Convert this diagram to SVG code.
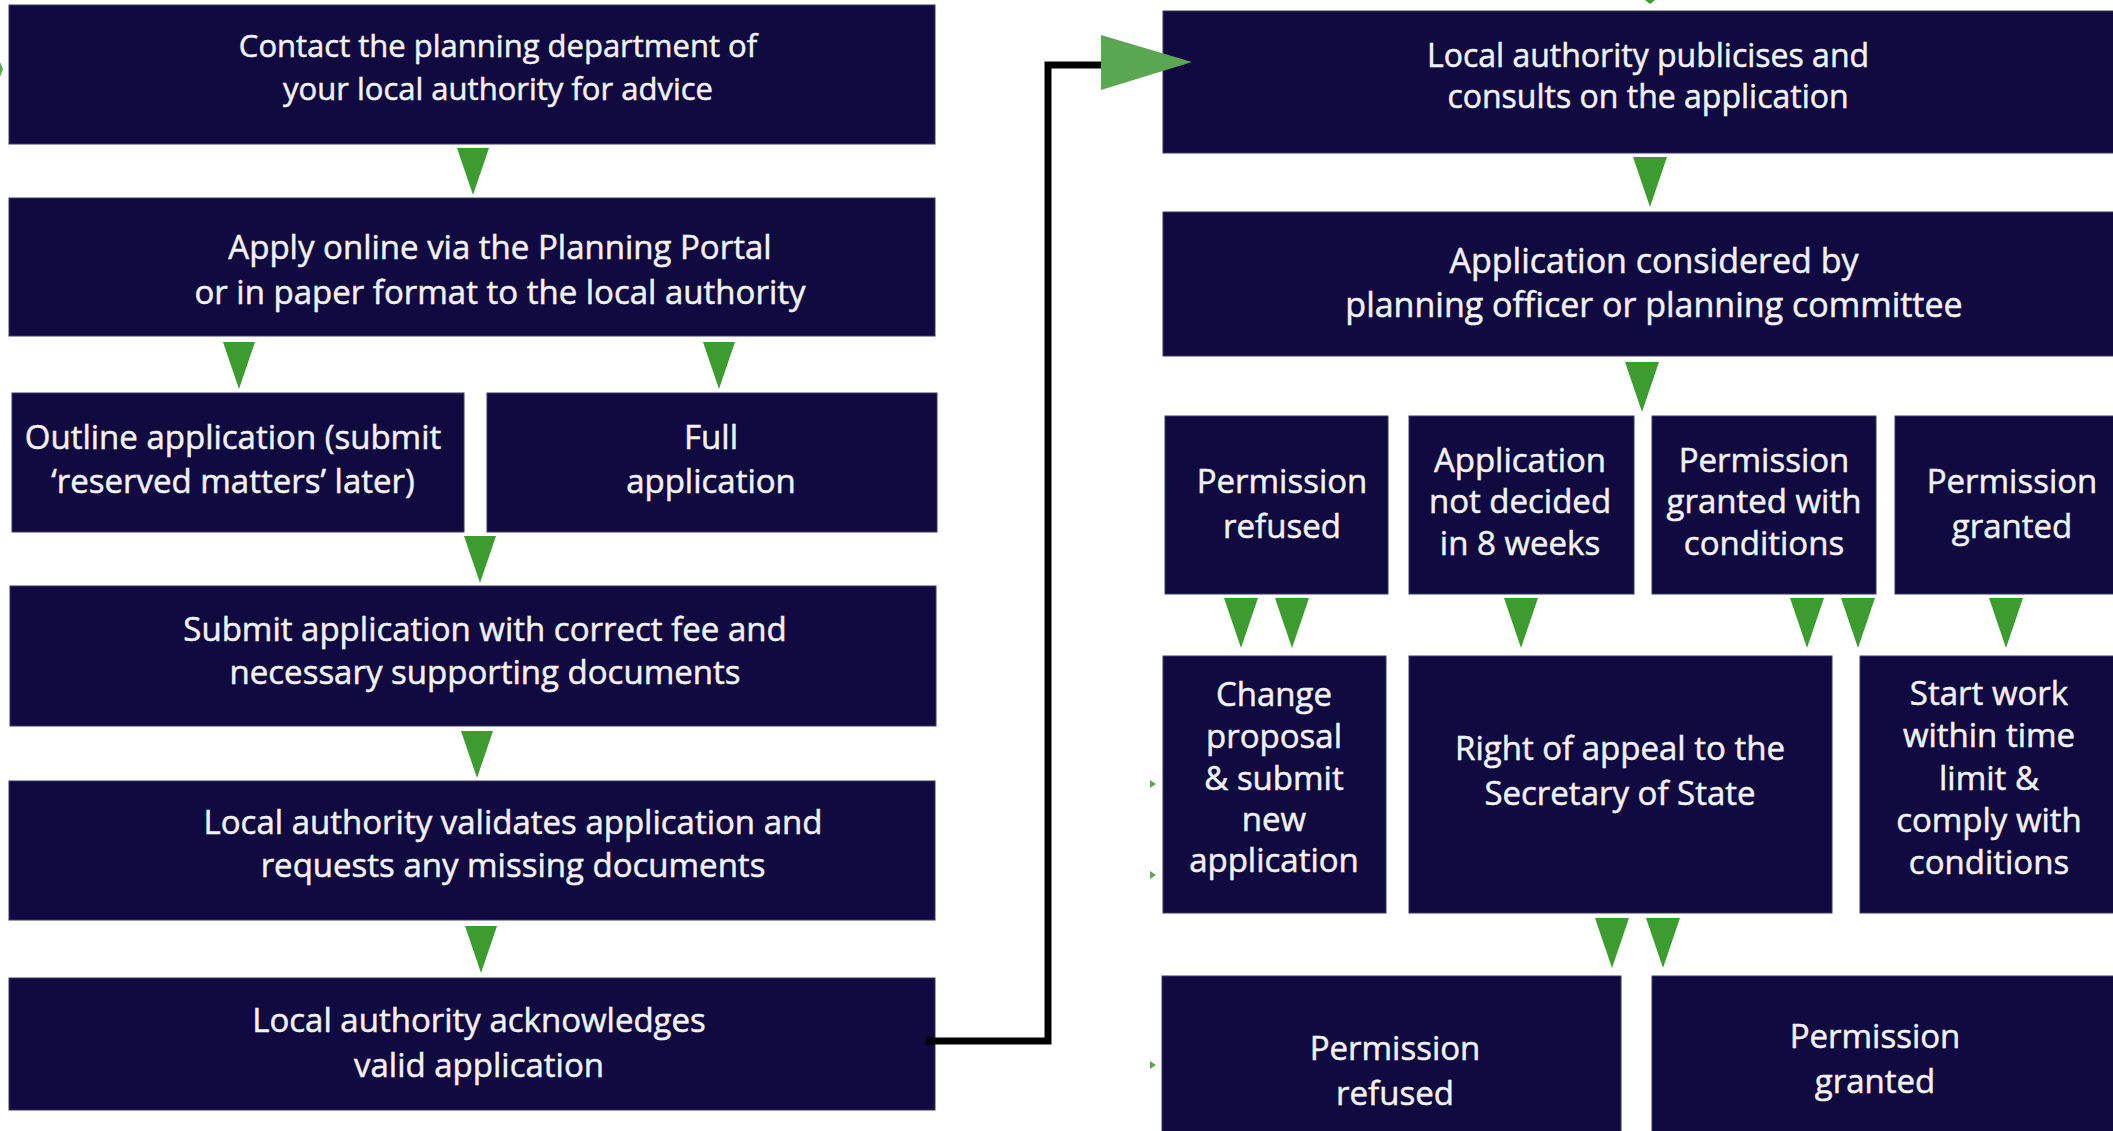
<svg xmlns="http://www.w3.org/2000/svg" xmlns:xlink="http://www.w3.org/1999/xlink" width="2113" height="1131" viewBox="0 0 2113 1131">
<defs>
<style>
.box{fill:#100a40;stroke:#3b3765;stroke-width:1}
.t{font-family:"Open Sans","Liberation Sans",sans-serif;fill:#f2f2f6;stroke:#f2f2f6;stroke-width:0.5;text-anchor:middle;font-size:33px}
.s31{font-size:31px}
.s32{font-size:32px}
.s34{font-size:34px}
.arr{fill:#3d9c30}
.big{fill:#5ba652}
.link{fill:none;stroke:#000;stroke-width:7;stroke-linejoin:miter}
</style>
<path id="dnL" d="M-16,0 L16,0 L0,47 Z"/>
<path id="dnR" d="M-17,0 L17,0 L0,50 Z"/>
</defs>
<rect width="2113" height="1131" fill="#ffffff"/>

<g id="n1"><rect class="box" x="9" y="5" width="926" height="139"/>
<text class="t s31" x="498" y="57">Contact the planning department of</text>
<text class="t s31" x="498" y="100">your local authority for advice</text></g>

<g id="n2"><rect class="box" x="9" y="198" width="926" height="138"/>
<text class="t" x="500" y="259">Apply online via the Planning Portal</text>
<text class="t" x="500" y="304">or in paper format to the local authority</text></g>

<g id="n3"><rect class="box" x="12" y="393" width="452" height="139"/>
<text class="t" x="233" y="449">Outline application (submit</text>
<text class="t" x="233" y="493">‘reserved matters’ later)</text></g>

<g id="n4"><rect class="box" x="487" y="393" width="450" height="139"/>
<text class="t" x="711" y="449">Full</text>
<text class="t" x="711" y="493">application</text></g>

<g id="n5"><rect class="box" x="10" y="586" width="926" height="140"/>
<text class="t" x="485" y="641">Submit application with correct fee and</text>
<text class="t" x="485" y="684">necessary supporting documents</text></g>

<g id="n6"><rect class="box" x="9" y="781" width="926" height="139"/>
<text class="t" x="513" y="834">Local authority validates application and</text>
<text class="t" x="513" y="877">requests any missing documents</text></g>

<g id="n7"><rect class="box" x="9" y="978" width="926" height="132"/>
<text class="t" x="479" y="1032">Local authority acknowledges</text>
<text class="t" x="479" y="1077">valid application</text></g>

<g id="nA"><rect class="box" x="1163" y="11" width="960" height="142"/>
<text class="t s32" x="1648" y="67">Local authority publicises and</text>
<text class="t s32" x="1648" y="108">consults on the application</text></g>

<g id="nB"><rect class="box" x="1163" y="212" width="960" height="144"/>
<text class="t s34" x="1654" y="273">Application considered by</text>
<text class="t s34" x="1654" y="317">planning officer or planning committee</text></g>

<g id="nC1"><rect class="box" x="1165" y="416" width="223" height="178"/>
<text class="t" x="1282" y="493">Permission</text>
<text class="t" x="1282" y="538">refused</text></g>

<g id="nC2"><rect class="box" x="1409" y="416" width="225" height="178"/>
<text class="t" x="1520" y="472">Application</text>
<text class="t" x="1520" y="513">not decided</text>
<text class="t" x="1520" y="555">in 8 weeks</text></g>

<g id="nC3"><rect class="box" x="1652" y="416" width="224" height="178"/>
<text class="t" x="1764" y="472">Permission</text>
<text class="t" x="1764" y="513">granted with</text>
<text class="t" x="1764" y="555">conditions</text></g>

<g id="nC4"><rect class="box" x="1895" y="416" width="230" height="178"/>
<text class="t" x="2012" y="493">Permission</text>
<text class="t" x="2012" y="538">granted</text></g>

<g id="nD1"><rect class="box" x="1163" y="656" width="223" height="257"/>
<text class="t" x="1274" y="706">Change</text>
<text class="t" x="1274" y="748">proposal</text>
<text class="t" x="1274" y="790">&amp; submit</text>
<text class="t" x="1274" y="831">new</text>
<text class="t" x="1274" y="872">application</text></g>

<g id="nD2"><rect class="box" x="1409" y="656" width="423" height="257"/>
<text class="t" x="1620" y="760">Right of appeal to the</text>
<text class="t" x="1620" y="805">Secretary of State</text></g>

<g id="nD3"><rect class="box" x="1860" y="656" width="265" height="257"/>
<text class="t" x="1989" y="705">Start work</text>
<text class="t" x="1989" y="747">within time</text>
<text class="t" x="1989" y="790">limit &amp;</text>
<text class="t" x="1989" y="832">comply with</text>
<text class="t" x="1989" y="874">conditions</text></g>

<g id="nE1"><rect class="box" x="1162" y="976" width="459" height="165"/>
<text class="t" x="1395" y="1060">Permission</text>
<text class="t" x="1395" y="1105">refused</text></g>

<g id="nE2"><rect class="box" x="1652" y="976" width="470" height="165"/>
<text class="t" x="1875" y="1048">Permission</text>
<text class="t" x="1875" y="1093">granted</text></g>

<g id="connectors">
<polyline class="link" points="926,1041 1048,1041 1048,65 1101,65"/>
<polygon class="big" points="1101,35 1101,90 1192,62"/>
<use xlink:href="#dnL" class="arr" x="473" y="148"/>
<use xlink:href="#dnL" class="arr" x="239" y="342"/>
<use xlink:href="#dnL" class="arr" x="719" y="342"/>
<use xlink:href="#dnL" class="arr" x="480" y="536"/>
<use xlink:href="#dnL" class="arr" x="477" y="731"/>
<use xlink:href="#dnL" class="arr" x="481" y="926"/>
<polygon class="arr" points="1645,0 1655,0 1650,4"/>
<use xlink:href="#dnR" class="arr" x="1650" y="157"/>
<use xlink:href="#dnR" class="arr" x="1642" y="362"/>
<use xlink:href="#dnR" class="arr" x="1241" y="598"/>
<use xlink:href="#dnR" class="arr" x="1292" y="598"/>
<use xlink:href="#dnR" class="arr" x="1521" y="598"/>
<use xlink:href="#dnR" class="arr" x="1807" y="598"/>
<use xlink:href="#dnR" class="arr" x="1858" y="598"/>
<use xlink:href="#dnR" class="arr" x="2006" y="598"/>
<use xlink:href="#dnR" class="arr" x="1612" y="918"/>
<use xlink:href="#dnR" class="arr" x="1663" y="918"/>
<polygon class="big" points="0,62 0,77 3,69"/>
<polygon class="big" points="1150,780 1150,788 1156,784"/>
<polygon class="big" points="1150,871 1150,879 1156,875"/>
<polygon class="big" points="1150,1061 1150,1069 1156,1065"/>
</g>
</svg>
